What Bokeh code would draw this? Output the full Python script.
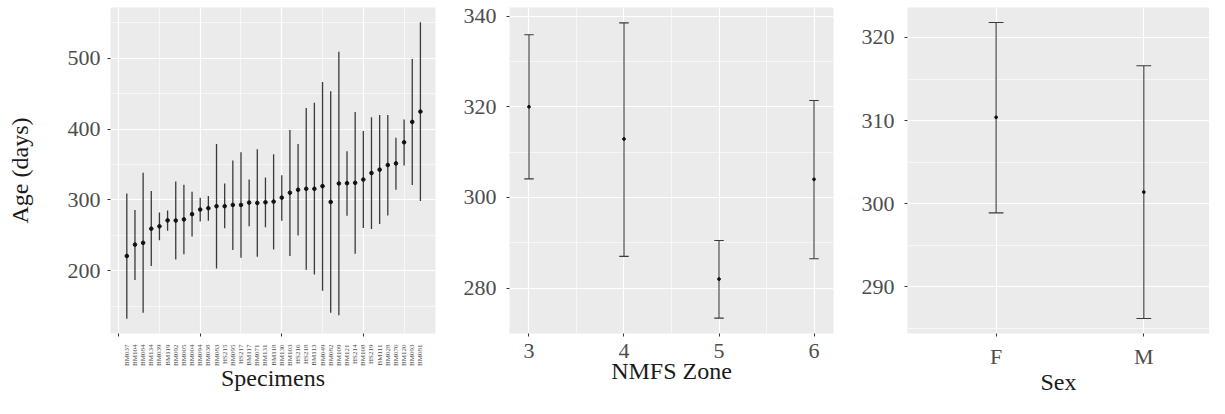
from math import pi
from bokeh.plotting import figure
from bokeh.models import FixedTicker, Range1d
from bokeh.layouts import row
from bokeh.embed import file_html
from bokeh.resources import INLINE

# ---------------- data ----------------
specimens = ["BM037", "BM104", "BM084", "BM134", "BM039", "BM119", "BM092", "BM005",
             "BM004", "BM094", "BM038", "BM083", "HS215", "BM095", "HS217", "BM117",
             "BM071", "BM131", "BM118", "BM130", "BM103", "HS216", "HS218", "BM113",
             "BM049", "BM082", "BM109", "BM121", "HS214", "BM108", "HS219", "BM111",
             "BM028", "BM070", "BM120", "BM093", "BM081"]
spec_mean = [221, 237, 239.5, 259.5, 262.8, 271.2, 271, 272.6, 280, 286.5, 288.4, 291.2,
             291.2, 293, 293, 296.3, 295.8, 296.7, 297.7, 303.3, 310.2, 314.4, 315.8, 315.8,
             319.5, 297.2, 323.3, 323.7, 324.2, 328.8, 338, 342.8, 349.3, 351.6, 381.4,
             410.2, 424.7]
spec_low = [132.5, 187, 141, 207, 243.3, 256.7, 216, 223.3, 248.4, 269.8, 270.7, 203.3,
            260, 229.3, 218.6, 262.8, 220, 261.4, 230, 270.7, 220.9, 249.8, 201.4, 195,
            172, 141, 137.2, 277.7, 224.2, 260.5, 259, 266, 278.1, 314.4, 348.8, 321,
            298.6]
spec_high = [309, 286, 338.6, 312.6, 282.3, 285, 326, 321.4, 311.6, 303.3, 305.6, 379,
             323.3, 355.8, 367.4, 328.8, 371.6, 331.6, 364.7, 334.9, 398.6, 379, 429.8,
             437.2, 466.5, 453.5, 509.3, 368.8, 424.2, 397.2, 416.7, 420, 420, 387.9,
             413.5, 499, 550.7]

zones = [3, 4, 5, 6]
zone_mean = [320.0, 312.9, 282.0, 304.0]
zone_low = [304.1, 287.0, 273.4, 286.5]
zone_high = [335.9, 338.5, 290.5, 321.4]

sexes = ["F", "M"]
sex_mean = [310.4, 301.4]
sex_low = [298.9, 286.2]
sex_high = [321.8, 316.6]

# ---------------- style ----------------
FONT = "Liberation Serif"
PANEL = "#EBEBEB"
LINE = "#3a3a3a"
H = 398
TOP = 7
BOTTOM = 65


def style(p):
    p.background_fill_color = PANEL
    p.border_fill_color = "white"
    p.outline_line_color = None
    for ax in p.axis:
        ax.axis_line_color = None
        ax.major_tick_line_color = "#333333"
        ax.major_tick_out = 3
        ax.major_tick_in = 0
        ax.minor_tick_line_color = None
        ax.minor_tick_out = 0
        ax.minor_tick_in = 0
        ax.major_label_text_font = FONT
        ax.major_label_text_font_size = "22px"
        ax.major_label_text_color = "#4D4D4D"
        ax.axis_label_text_font = FONT
        ax.axis_label_text_font_size = "24px"
        ax.axis_label_text_font_style = "normal"
        ax.axis_label_text_color = "#1A1A1A"
    for g in p.grid:
        g.grid_line_color = "white"
        g.grid_line_width = 1.2
        g.minor_grid_line_color = "white"
        g.minor_grid_line_width = 0.6


# ---------------- panel 1: specimens ----------------
xs = list(range(1, len(specimens) + 1))
p1 = figure(width=445, height=H, x_range=Range1d(-1.0, 38.85), y_range=Range1d(111.6, 571.6),
            output_backend="svg", toolbar_location=None,
            min_border_left=110, min_border_right=10, min_border_top=TOP, min_border_bottom=BOTTOM)
p1.segment(x0=xs, y0=spec_low, x1=xs, y1=spec_high, line_color=LINE, line_width=1.3)
p1.scatter(xs, spec_mean, size=3.6, color="#111111")
style(p1)
p1.yaxis.ticker = FixedTicker(ticks=[200, 300, 400, 500], minor_ticks=[150, 250, 350, 450, 550])
p1.yaxis.axis_label = "Age (days)"
p1.yaxis.major_label_standoff = 7
p1.yaxis.axis_label_standoff = 32
p1.xaxis.ticker = FixedTicker(ticks=xs, minor_ticks=[0, 10, 20, 30])
p1.xaxis.major_label_overrides = {i: s for i, s in zip(xs, specimens)}
p1.xaxis.major_label_orientation = pi / 2
p1.xaxis.major_label_text_font_size = "7px"
p1.xaxis.major_tick_line_color = None
p1.xaxis.major_tick_out = 0
p1.xaxis.minor_tick_line_color = "#333333"
p1.xaxis.minor_tick_out = 3
p1.xaxis.minor_tick_in = 0
p1.xaxis.major_label_standoff = 8
p1.xaxis.axis_label = "Specimens"
p1.xaxis.axis_label_standoff = -4
p1.xgrid.ticker = FixedTicker(ticks=[0, 10, 20, 30], minor_ticks=[5, 15, 25, 35])

# ---------------- panel 2: NMFS zone ----------------
cap = 0.05
p2 = figure(width=400, height=H, x_range=Range1d(2.795, 6.205), y_range=Range1d(270.0, 341.9),
            output_backend="svg", toolbar_location=None,
            min_border_left=64, min_border_right=12, min_border_top=TOP, min_border_bottom=BOTTOM)
p2.segment(x0=zones, y0=zone_low, x1=zones, y1=zone_high, line_color=LINE, line_width=1.1)
p2.segment(x0=[z - cap for z in zones], y0=zone_low, x1=[z + cap for z in zones], y1=zone_low,
           line_color=LINE, line_width=1.1)
p2.segment(x0=[z - cap for z in zones], y0=zone_high, x1=[z + cap for z in zones], y1=zone_high,
           line_color=LINE, line_width=1.1)
p2.scatter(zones, zone_mean, size=2.8, color="#111111")
style(p2)
p2.yaxis.ticker = FixedTicker(ticks=[280, 300, 320, 340], minor_ticks=[290, 310, 330])
p2.yaxis.major_label_standoff = 10
p2.xaxis.ticker = FixedTicker(ticks=zones, minor_ticks=[3.5, 4.5, 5.5])
p2.xaxis.major_label_standoff = 7
p2.xaxis.axis_label = "NMFS Zone"
p2.xaxis.axis_label_standoff = -3

# ---------------- panel 3: sex ----------------
sx = [1, 2]
p3 = figure(width=364, height=H, x_range=Range1d(0.4, 2.4447), y_range=Range1d(284.4, 323.6),
            output_backend="svg", toolbar_location=None,
            min_border_left=62, min_border_right=0, min_border_top=TOP, min_border_bottom=BOTTOM)
p3.segment(x0=sx, y0=sex_low, x1=sx, y1=sex_high, line_color=LINE, line_width=1.1)
p3.segment(x0=[v - cap for v in sx], y0=sex_low, x1=[v + cap for v in sx], y1=sex_low,
           line_color=LINE, line_width=1.1)
p3.segment(x0=[v - cap for v in sx], y0=sex_high, x1=[v + cap for v in sx], y1=sex_high,
           line_color=LINE, line_width=1.1)
p3.scatter(sx, sex_mean, size=2.8, color="#111111")
style(p3)
p3.yaxis.ticker = FixedTicker(ticks=[290, 300, 310, 320], minor_ticks=[285, 295, 305, 315])
p3.yaxis.major_label_standoff = 10
p3.xaxis.ticker = FixedTicker(ticks=sx, minor_ticks=[])
p3.xaxis.major_label_overrides = {1: "F", 2: "M"}
p3.xaxis.major_label_standoff = 7
p3.xaxis.axis_label = "Sex"
p3.xaxis.axis_label_standoff = -3

layout = row(p1, p2, p3)
open("out.html", "w").write(file_html(layout, INLINE))
